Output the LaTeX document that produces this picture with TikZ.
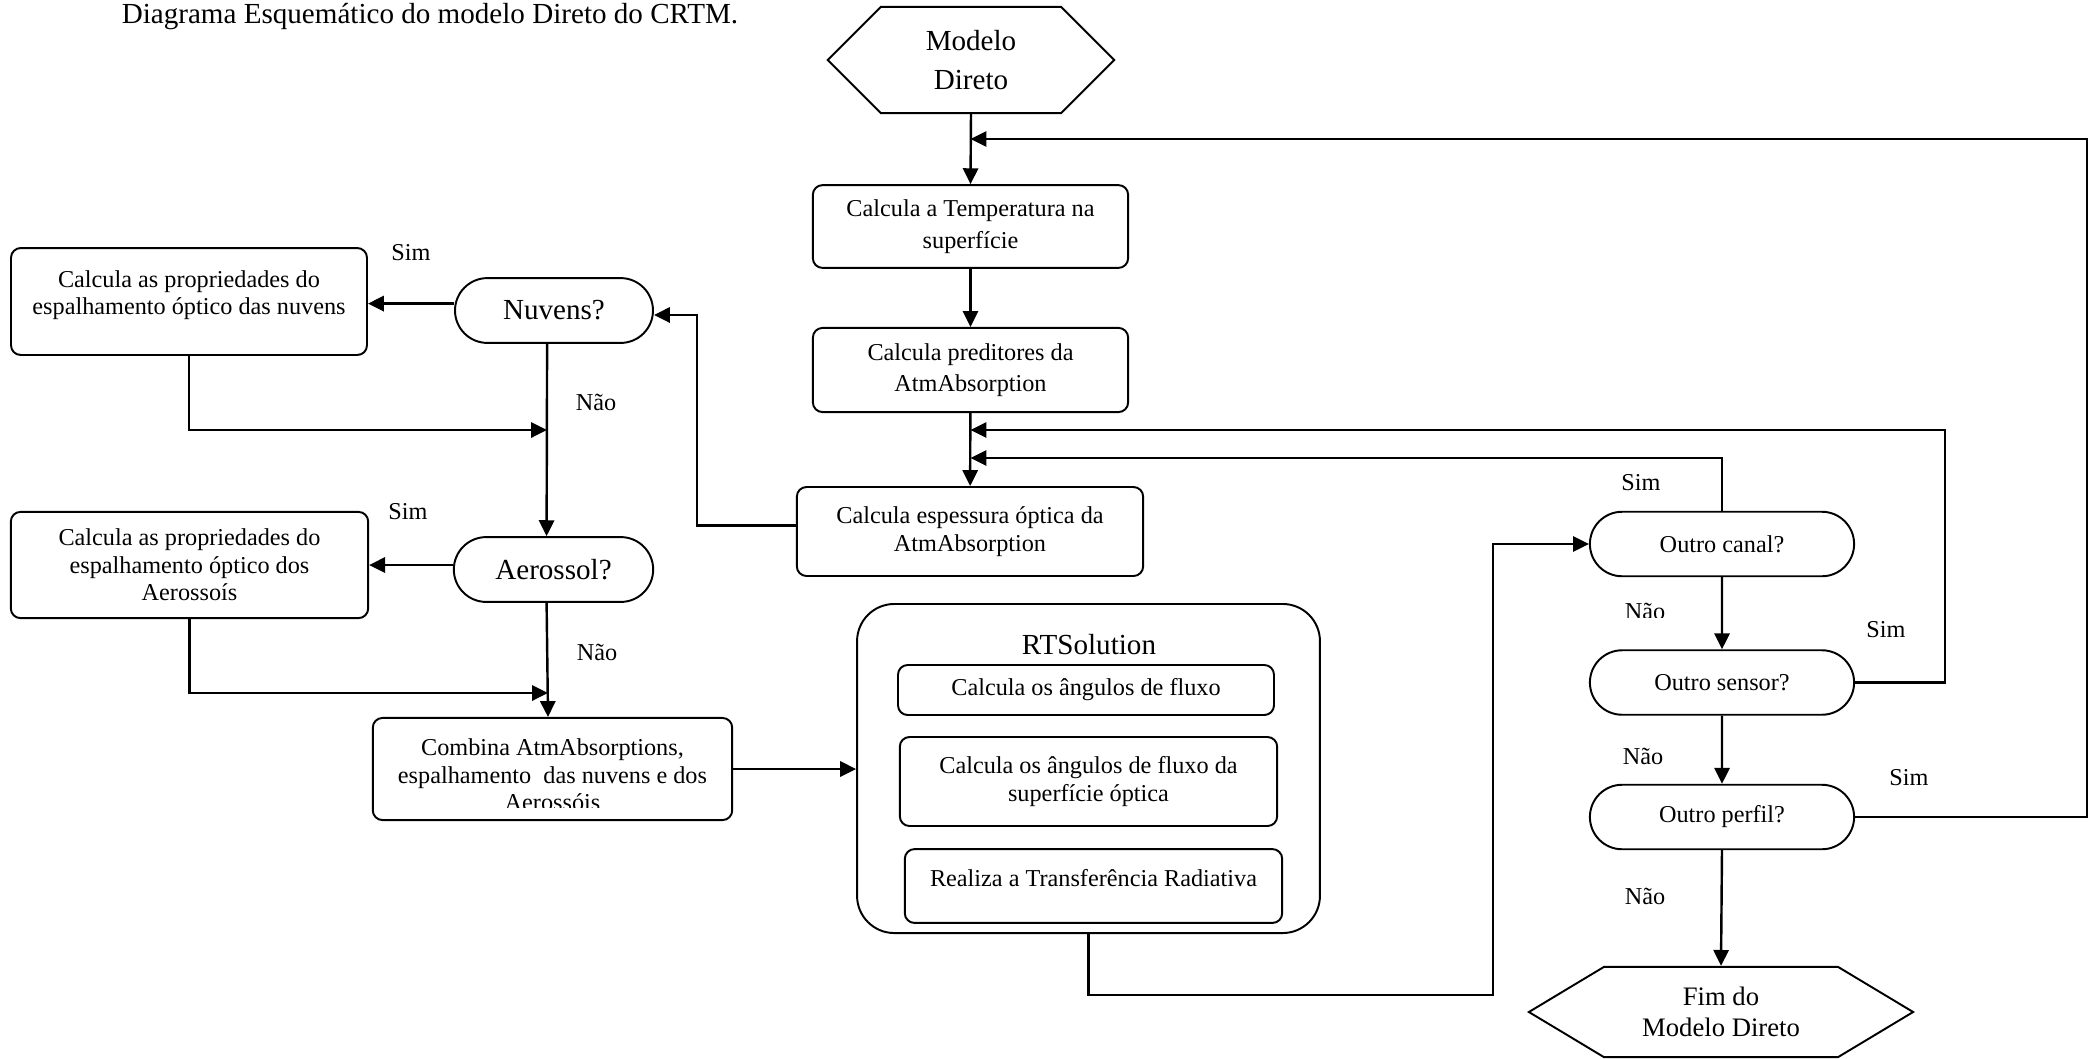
\documentclass[tikz,border=0pt]{standalone}
\usepackage{fontspec}
\setmainfont{Liberation Serif}
\usetikzlibrary{shapes.misc,shapes.symbols,arrows.meta}

\begin{document}
\begin{tikzpicture}[x=0.0145cm, y=-0.0145cm, >={Triangle[length=2.3mm,width=2.2mm]}, line width=1pt,
    box/.style={draw, line width=0.8pt, rounded corners=0.14cm, align=center, inner sep=0pt, font=\fontsize{10}{11.3}\selectfont},
    decision/.style={draw, line width=0.8pt, rounded rectangle, inner sep=0pt, minimum width=3.83cm, minimum height=0.935cm, font=\fontsize{10}{12}\selectfont},
    term/.style={draw, line width=0.8pt, signal, signal to=west and east, align=center, inner sep=0pt},
    lbl/.style={font=\fontsize{10}{12}\selectfont, inner sep=0pt}]

    \useasboundingbox (0,0) rectangle (2096,1058);

    \node[anchor=base, font=\fontsize{12}{14}\selectfont] (title) at (430,23) {Diagrama Esquemático do modelo Direto do CRTM.};

    % coluna central
    \node[term, signal pointer angle=90, minimum width=4.15cm, minimum height=1.54cm, font=\fontsize{12}{16.4}\selectfont] (modelo) at (971,60) {Modelo\\Direto};
    \node[box, minimum width=4.57cm, minimum height=1.2cm, font=\fontsize{10}{13.2}\selectfont] (temp) at (970.5,226.5) {Calcula a Temperatura na\\superfície};
    \node[box, minimum width=4.57cm, minimum height=1.22cm, font=\fontsize{10}{12.7}\selectfont] (pred) at (970.5,370) {Calcula preditores da\\AtmAbsorption};
    \node[box, minimum width=5.02cm, minimum height=1.29cm] (esp) at (970,531.5) {Calcula espessura óptica da\\AtmAbsorption};

    % nuvens e aerossois
    \node[decision, minimum width=2.87cm, minimum height=0.94cm, font=\fontsize{12}{14}\selectfont] (nuvens) at (554,310.5) {Nuvens?};
    \node[box, minimum width=5.16cm, minimum height=1.55cm] (nuvbox) at (189,301.5) {Calcula as propriedades do\\espalhamento óptico das nuvens\\[-4pt]\mbox{}};
    \node[decision, minimum width=2.89cm, minimum height=0.94cm, font=\fontsize{12}{14}\selectfont] (aer) at (553.5,569.5) {Aerossol?};
    \node[box, minimum width=5.18cm, minimum height=1.54cm] (aerbox) at (189.5,565) {Calcula as propriedades do\\espalhamento óptico dos\\Aerossoís};
    \node[box, minimum width=5.21cm, minimum height=1.48cm] (comb) at (552.5,769) {};
    \begin{scope}
        \clip (374,719) rectangle (731,807);
        \node[font=\fontsize{10}{11.3}\selectfont, align=center, inner sep=0pt] (combtxt) at (552.5,775) {Combina AtmAbsorptions,\\espalhamento\ \ das nuvens e dos\\Aerossóis};
    \end{scope}

    % RTSolution
    \node[draw, line width=0.8pt, rounded corners=0.54cm, minimum width=6.71cm, minimum height=4.77cm] (rts) at (1088.5,768.5) {};
    \node[font=\fontsize{12}{14}\selectfont, inner sep=0pt] (rtstitle) at (1089,645) {RTSolution};
    \node[box, minimum width=5.45cm, minimum height=0.725cm] (ang) at (1086,690) {Calcula os ângulos de fluxo};
    \node[box, minimum width=5.47cm, minimum height=1.29cm] (angsup) at (1088.5,781.5) {Calcula os ângulos de fluxo da\\superfície óptica};
    \node[box, minimum width=5.47cm, minimum height=1.07cm] (transf) at (1093.5,886) {Realiza a Transferência Radiativa\\[-5pt]\mbox{}};

    % lacos
    \node[decision] (canal) at (1722,544) {Outro canal?};
    \node[decision] (sensor) at (1722,682.5) {Outro sensor?};
    \node[decision] (perfil) at (1722,817) {Outro perfil?};
    \node[term, signal pointer angle=62, minimum width=5.57cm, minimum height=1.31cm, font=\fontsize{11}{12.7}\selectfont] (fim) at (1721,1012) {Fim do\\Modelo Direto};

    \foreach \x/\y/\lab [count=\i] in {411/253/Sim, 596/402/Não, 408/512/Sim, 597/652/Não, 1641/483/Sim, 1886/630/Sim, 1643/756/Não, 1909/778/Sim, 1645/896/Não} {
        \node[lbl] (lab\i) at (\x,\y) {\lab};
    }
    \begin{scope}
        \clip (1600,590) rectangle (1690,617);
        \node[lbl, anchor=base] (labcanal) at (1645,619) {Não};
    \end{scope}

    \coordinate (j1) at (547,430);
    \coordinate (j2) at (548,693);
    \coordinate (j3) at (970.5,458);
    \coordinate (j4) at (970.5,430);
    \coordinate (j5) at (970.5,139);

    \draw[->] (modelo.south) -- (temp.north);
    \draw[->] (temp) -- (pred);
    \draw[->] (pred) -- (esp);
    \draw[->] ([yshift=0.09cm]esp.west) -- ++(-99,0) |- ([yshift=-0.065cm]nuvens.east);
    \draw[->] ([yshift=0.1cm]nuvens.west) -- ([yshift=0.1cm]nuvens.west -| nuvbox.east);
    \draw[->] ([xshift=-0.1cm]nuvens.south) -- ([xshift=-0.1cm]aer.north);
    \draw[->] (nuvbox.south) |- (j1);
    \draw[->] ([yshift=0.065cm]aer.west) -- ([yshift=0.065cm]aer.west -| aerbox.east);
    \draw[->] ([xshift=-0.1cm]aer.south) -- ([xshift=-0.065cm]comb.north);
    \draw[->] (aerbox.south) |- (j2);
    \draw[->] (comb.east) -- (comb.east -| rts.west);
    \draw[->] (rts.south) |- (1493,995) |- (canal.west);
    \draw[->] (canal) -- (sensor);
    \draw[->] (sensor) -- (perfil);
    \draw[->] (perfil.south) -- (fim.north);
    \draw[->] (canal.north) |- (j3);
    \draw[->] (sensor.east) -- ++(90,0) |- (j4);
    \draw[->] (perfil.east) -- ++(232,0) |- (j5);
\end{tikzpicture}
\end{document}
